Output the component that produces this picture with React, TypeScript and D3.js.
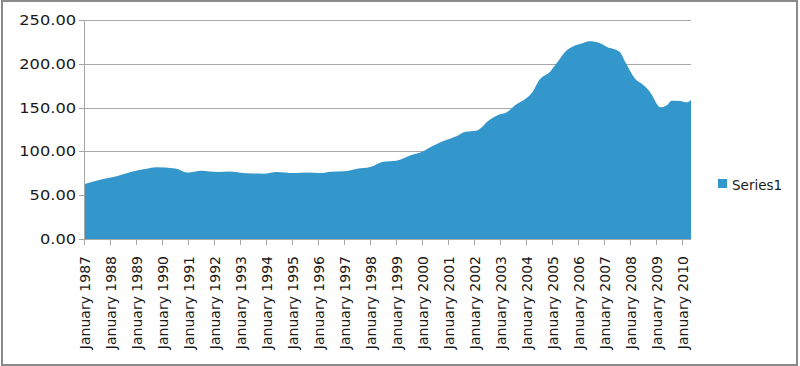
import React from "react";
import * as d3 from "d3";

// (month, value)
const months = [
  "1987-01", "1987-08", "1988-02", "1988-07", "1988-11", "1989-06", "1989-10", "1990-07",
  "1991-01", "1991-07", "1992-03", "1992-08", "1993-04", "1993-12", "1994-06", "1995-02",
  "1995-08", "1996-02", "1996-07", "1997-01", "1997-07", "1998-01", "1998-07", "1999-01",
  "1999-08", "2000-01", "2000-06", "2000-10", "2001-05", "2001-09", "2002-02", "2002-08",
  "2002-12", "2003-04", "2003-08", "2004-01", "2004-04", "2004-07", "2004-12", "2005-03",
  "2005-07", "2005-11", "2006-03", "2006-06", "2006-11", "2007-02", "2007-08", "2007-11",
  "2008-03", "2008-07", "2008-10", "2009-03", "2009-06", "2009-08", "2009-12", "2010-03",
  "2010-05",
];
const series1 = [
  62.5, 67.4, 70.4, 74.0, 76.9, 80.3, 81.8, 80.6,
  76.0, 78.0, 76.5, 77.0, 75.0, 74.6, 76.5, 75.3,
  76.0, 75.3, 76.9, 77.3, 80.3, 82.2, 88.3, 89.4,
  95.9, 99.7, 106.5, 111.0, 117.6, 122.5, 123.6, 135.8,
  141.6, 144.6, 153.0, 160.6, 168.2, 181.5, 191.0, 200.5,
  213.8, 220.3, 223.4, 225.6, 223.4, 219.5, 213.8, 200.5,
  183.4, 175.8, 168.2, 150.3, 153.0, 157.9, 157.5, 156.0,
  158.7,
];
const years = d3.range(1987, 2011);
const yTicks = [0, 50, 100, 150, 200, 250];

const monthIndex = (s: string) => {
  const [y, m] = s.split("-").map(Number);
  return (y - 1987) * 12 + (m - 1);
};

export default function App() {
  const x = d3.scaleLinear().domain([0, monthIndex("2010-05")]).range([84, 691]);
  const y = d3.scaleLinear().domain([0, 250]).range([239, 20]);
  const pts = months.map((m, i) => ({ m: monthIndex(m), v: series1[i] }));
  const area = d3
    .area<{ m: number; v: number }>()
    .x((d) => x(d.m))
    .y0(y(0))
    .y1((d) => y(d.v))
    .curve(d3.curveMonotoneX);
  const font = "DejaVu Sans, sans-serif";

  return (
    <svg width={800} height={366} style={{ position: "absolute", left: 0, top: 0 }}>
      <rect x={0} y={0} width={800} height={366} fill="#fff" />
      <rect x={2} y={1} width={795} height={364} fill="none" stroke="#8a8a8a" strokeWidth={2} />
      {yTicks.map((t) => (
        <g key={t}>
          <line x1={79} x2={691} y1={Math.round(y(t)) + 0.5} y2={Math.round(y(t)) + 0.5} stroke="#a6a6a6" />
          <text
            transform={`translate(76,${y(t) + 5}) scale(1.2,1)`}
            textAnchor="end"
            fontFamily={font}
            fontSize={13.5}
            fill="#1a1a1a"
          >
            {t.toFixed(2)}
          </text>
        </g>
      ))}
      <path d={area(pts) ?? ""} fill="#3497cb" />
      <line x1={84.5} x2={84.5} y1={20} y2={239} stroke="#a6a6a6" />
      <line x1={79} x2={691} y1={239.5} y2={239.5} stroke="#a6a6a6" />
      {years.map((yr) => {
        const px = x((yr - 1987) * 12);
        return (
          <g key={yr}>
            <line x1={Math.round(px) + 0.5} x2={Math.round(px) + 0.5} y1={239} y2={245} stroke="#a6a6a6" />
            <text
              transform={`translate(${px + 1},256) rotate(-90)`}
              textAnchor="end"
              dominantBaseline="central"
              fontFamily={font}
              fontSize={14}
              fill="#1a1a1a"
            >
              {`January ${yr}`}
            </text>
          </g>
        );
      })}
      <rect x={718} y={179} width={9} height={9} fill="#3497cb" />
      <text x={732} y={189.5} fontFamily={font} fontSize={13.5} fill="#1a1a1a">
        Series1
      </text>
    </svg>
  );
}
